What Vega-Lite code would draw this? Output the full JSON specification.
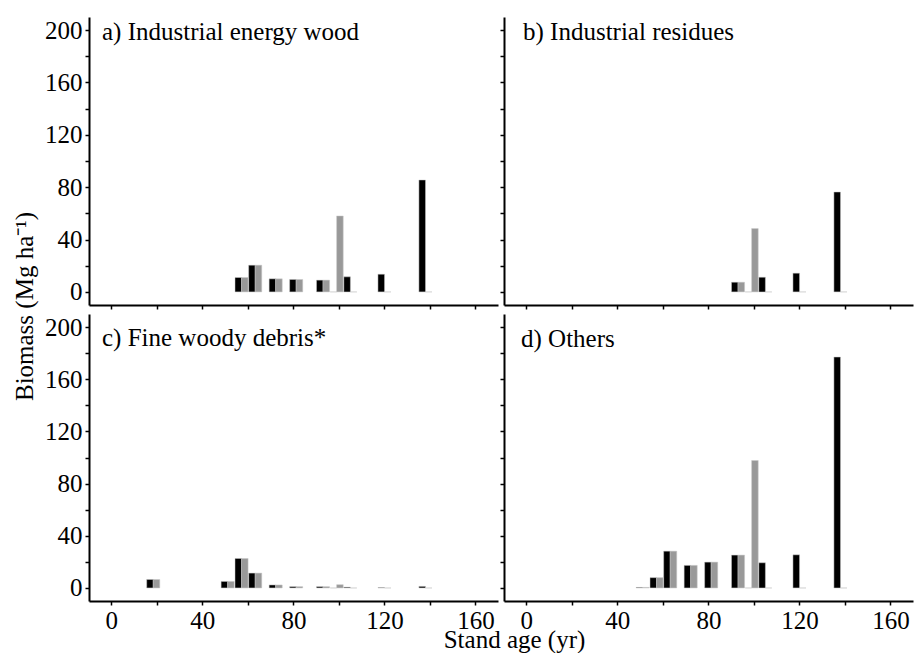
{
  "$schema": "https://vega.github.io/schema/vega-lite/v6.json",
  "background": "white",
  "padding": {"left": 12, "top": 17, "right": 2, "bottom": 0},
  "data": {"values": [
    {"panel": "a", "age": 55.8, "series": "s1", "biomass": 11},
    {"panel": "a", "age": 61.8, "series": "s1", "biomass": 20.4},
    {"panel": "a", "age": 70.8, "series": "s1", "biomass": 10},
    {"panel": "a", "age": 79.8, "series": "s1", "biomass": 9.5},
    {"panel": "a", "age": 91.6, "series": "s1", "biomass": 9},
    {"panel": "a", "age": 97.6, "series": "s1", "biomass": 0},
    {"panel": "a", "age": 103.6, "series": "s1", "biomass": 11.5},
    {"panel": "a", "age": 118.6, "series": "s1", "biomass": 13.5},
    {"panel": "a", "age": 136.6, "series": "s1", "biomass": 85.5},
    {"panel": "a", "age": 58.65, "series": "s2", "biomass": 11},
    {"panel": "a", "age": 64.65, "series": "s2", "biomass": 20.4},
    {"panel": "a", "age": 73.65, "series": "s2", "biomass": 10},
    {"panel": "a", "age": 82.65, "series": "s2", "biomass": 9.5},
    {"panel": "a", "age": 94.45, "series": "s2", "biomass": 9},
    {"panel": "a", "age": 100.45, "series": "s2", "biomass": 58},
    {"panel": "a", "age": 106.45, "series": "s2", "biomass": 0},
    {"panel": "a", "age": 121.45, "series": "s2", "biomass": 0},
    {"panel": "a", "age": 139.45, "series": "s2", "biomass": 0},

    {"panel": "b", "age": 91.6, "series": "s1", "biomass": 7.4},
    {"panel": "b", "age": 97.6, "series": "s1", "biomass": 0},
    {"panel": "b", "age": 103.6, "series": "s1", "biomass": 11.2},
    {"panel": "b", "age": 118.6, "series": "s1", "biomass": 14.3},
    {"panel": "b", "age": 136.6, "series": "s1", "biomass": 76.3},
    {"panel": "b", "age": 94.45, "series": "s2", "biomass": 7.4},
    {"panel": "b", "age": 100.45, "series": "s2", "biomass": 48.4},
    {"panel": "b", "age": 106.45, "series": "s2", "biomass": 0},
    {"panel": "b", "age": 121.45, "series": "s2", "biomass": 0},
    {"panel": "b", "age": 139.45, "series": "s2", "biomass": 0},

    {"panel": "c", "age": 17, "series": "s1", "biomass": 6.5},
    {"panel": "c", "age": 49.7, "series": "s1", "biomass": 5},
    {"panel": "c", "age": 55.8, "series": "s1", "biomass": 22.6},
    {"panel": "c", "age": 61.8, "series": "s1", "biomass": 11.4},
    {"panel": "c", "age": 70.8, "series": "s1", "biomass": 2.3},
    {"panel": "c", "age": 79.8, "series": "s1", "biomass": 1},
    {"panel": "c", "age": 91.6, "series": "s1", "biomass": 1},
    {"panel": "c", "age": 97.6, "series": "s1", "biomass": 0},
    {"panel": "c", "age": 103.6, "series": "s1", "biomass": 0.6},
    {"panel": "c", "age": 118.6, "series": "s1", "biomass": 0.3},
    {"panel": "c", "age": 136.6, "series": "s1", "biomass": 1.2},
    {"panel": "c", "age": 19.85, "series": "s2", "biomass": 6.5},
    {"panel": "c", "age": 52.55, "series": "s2", "biomass": 5},
    {"panel": "c", "age": 58.65, "series": "s2", "biomass": 22.6},
    {"panel": "c", "age": 64.65, "series": "s2", "biomass": 11.4},
    {"panel": "c", "age": 73.65, "series": "s2", "biomass": 2.3},
    {"panel": "c", "age": 82.65, "series": "s2", "biomass": 1},
    {"panel": "c", "age": 94.45, "series": "s2", "biomass": 1},
    {"panel": "c", "age": 100.45, "series": "s2", "biomass": 2.5},
    {"panel": "c", "age": 106.45, "series": "s2", "biomass": 0},
    {"panel": "c", "age": 121.45, "series": "s2", "biomass": 0},
    {"panel": "c", "age": 139.45, "series": "s2", "biomass": 0},

    {"panel": "d", "age": 49.7, "series": "s1", "biomass": 0.4},
    {"panel": "d", "age": 55.8, "series": "s1", "biomass": 7.9},
    {"panel": "d", "age": 61.8, "series": "s1", "biomass": 28.2},
    {"panel": "d", "age": 70.8, "series": "s1", "biomass": 17.3},
    {"panel": "d", "age": 79.8, "series": "s1", "biomass": 19.8},
    {"panel": "d", "age": 91.6, "series": "s1", "biomass": 25.2},
    {"panel": "d", "age": 97.6, "series": "s1", "biomass": 0},
    {"panel": "d", "age": 103.6, "series": "s1", "biomass": 19.3},
    {"panel": "d", "age": 118.6, "series": "s1", "biomass": 25.4},
    {"panel": "d", "age": 136.6, "series": "s1", "biomass": 177},
    {"panel": "d", "age": 52.55, "series": "s2", "biomass": 0.4},
    {"panel": "d", "age": 58.65, "series": "s2", "biomass": 7.9},
    {"panel": "d", "age": 64.65, "series": "s2", "biomass": 28.2},
    {"panel": "d", "age": 73.65, "series": "s2", "biomass": 17.3},
    {"panel": "d", "age": 82.65, "series": "s2", "biomass": 19.8},
    {"panel": "d", "age": 94.45, "series": "s2", "biomass": 25.2},
    {"panel": "d", "age": 100.45, "series": "s2", "biomass": 97.7},
    {"panel": "d", "age": 106.45, "series": "s2", "biomass": 0},
    {"panel": "d", "age": 121.45, "series": "s2", "biomass": 0},
    {"panel": "d", "age": 139.45, "series": "s2", "biomass": 0}
  ]},
  "columns": 2,
  "spacing": {"row": 9, "column": 6},
  "bounds": "flush",
  "config": {
    "view": {"stroke": null},
    "font": "Liberation Serif",
    "axis": {
      "grid": false,
      "domainColor": "#000000",
      "domainWidth": 2,
      "tickColor": "#000000",
      "tickWidth": 1.5,
      "tickSize": 4,
      "labelFont": "Liberation Serif",
      "labelFontSize": 25,
      "labelColor": "#000000",
      "labelFlush": false,
      "labelOverlap": false,
      "titleFont": "Liberation Serif",
      "titleFontSize": 25,
      "titleFontWeight": "normal",
      "titleColor": "#000000"
    },
    "title": {
      "font": "Liberation Serif",
      "fontSize": 25,
      "fontWeight": "normal",
      "color": "#000000",
      "anchor": "start",
      "frame": "group",
      "offset": 0,
      "baseline": "alphabetic"
    }
  },
  "concat": [
    {
      "width": 409, "height": 288,
      "title": {"text": "a) Industrial energy wood", "dx": 13, "dy": 32},
      "transform": [{"filter": "datum.panel == 'a'"}],
      "mark": {"type": "bar", "width": 6.6, "stroke": "#c8c8c8", "strokeWidth": 0.5},
      "encoding": {
        "x": {"field": "age", "type": "quantitative", "scale": {"domain": [-7.6, 167.7], "nice": false, "zero": false},
              "axis": {"title": null, "values": [0, 20, 40, 60, 80, 100, 120, 140, 160], "labels": false}},
        "y": {"field": "biomass", "type": "quantitative", "scale": {"domain": [-10, 210], "nice": false},
              "axis": {"title": "Biomass (Mg ha⁻¹)", "titleX": -57, "titleY": 289, "titleBaseline": "alphabetic", "titleAngle": -90, "titleAlign": "center",
                       "values": [0, 20, 40, 60, 80, 100, 120, 140, 160, 180, 200], "labelPadding": 3,
                       "labelExpr": "datum.value % 40 === 0 ? datum.label : ''"}},
        "color": {"field": "series", "type": "nominal", "scale": {"domain": ["s1", "s2"], "range": ["#000000", "#999999"]}, "legend": null}
      }
    },
    {
      "width": 409, "height": 288,
      "title": {"text": "b) Industrial residues", "dx": 19, "dy": 32},
      "transform": [{"filter": "datum.panel == 'b'"}],
      "mark": {"type": "bar", "width": 6.6, "stroke": "#c8c8c8", "strokeWidth": 0.5},
      "encoding": {
        "x": {"field": "age", "type": "quantitative", "scale": {"domain": [-7.6, 167.7], "nice": false, "zero": false},
              "axis": {"title": null, "values": [0, 20, 40, 60, 80, 100, 120, 140, 160], "labels": false}},
        "y": {"field": "biomass", "type": "quantitative", "scale": {"domain": [-10, 210], "nice": false},
              "axis": {"title": null, "values": [0, 20, 40, 60, 80, 100, 120, 140, 160, 180, 200], "labels": false}},
        "color": {"field": "series", "type": "nominal", "scale": {"domain": ["s1", "s2"], "range": ["#000000", "#999999"]}, "legend": null}
      }
    },
    {
      "width": 409, "height": 287,
      "title": {"text": "c) Fine woody debris*", "dx": 13, "dy": 40.5},
      "transform": [{"filter": "datum.panel == 'c'"}],
      "mark": {"type": "bar", "width": 6.6, "stroke": "#c8c8c8", "strokeWidth": 0.5},
      "encoding": {
        "x": {"field": "age", "type": "quantitative", "scale": {"domain": [-7.6, 167.7], "nice": false, "zero": false},
              "axis": {"title": "Stand age (yr)", "titleX": 425, "titleY": 46.5, "titleBaseline": "alphabetic", "titleAlign": "center",
                       "values": [0, 20, 40, 60, 80, 100, 120, 140, 160], "labelPadding": 3,
                       "labelExpr": "datum.value % 40 === 0 ? datum.label : ''"}},
        "y": {"field": "biomass", "type": "quantitative", "scale": {"domain": [-10, 210], "nice": false},
              "axis": {"title": null, "values": [0, 20, 40, 60, 80, 100, 120, 140, 160, 180, 200], "labelPadding": 3,
                       "labelExpr": "datum.value % 40 === 0 ? datum.label : ''"}},
        "color": {"field": "series", "type": "nominal", "scale": {"domain": ["s1", "s2"], "range": ["#000000", "#999999"]}, "legend": null}
      }
    },
    {
      "width": 409, "height": 287,
      "title": {"text": "d) Others", "dx": 17, "dy": 41.5},
      "transform": [{"filter": "datum.panel == 'd'"}],
      "mark": {"type": "bar", "width": 6.6, "stroke": "#c8c8c8", "strokeWidth": 0.5},
      "encoding": {
        "x": {"field": "age", "type": "quantitative", "scale": {"domain": [-7.6, 167.7], "nice": false, "zero": false},
              "axis": {"title": null, "values": [0, 20, 40, 60, 80, 100, 120, 140, 160], "labelPadding": 3,
                       "labelExpr": "datum.value % 40 === 0 ? datum.label : ''"}},
        "y": {"field": "biomass", "type": "quantitative", "scale": {"domain": [-10, 210], "nice": false},
              "axis": {"title": null, "values": [0, 20, 40, 60, 80, 100, 120, 140, 160, 180, 200], "labels": false}},
        "color": {"field": "series", "type": "nominal", "scale": {"domain": ["s1", "s2"], "range": ["#000000", "#999999"]}, "legend": null}
      }
    }
  ]
}
